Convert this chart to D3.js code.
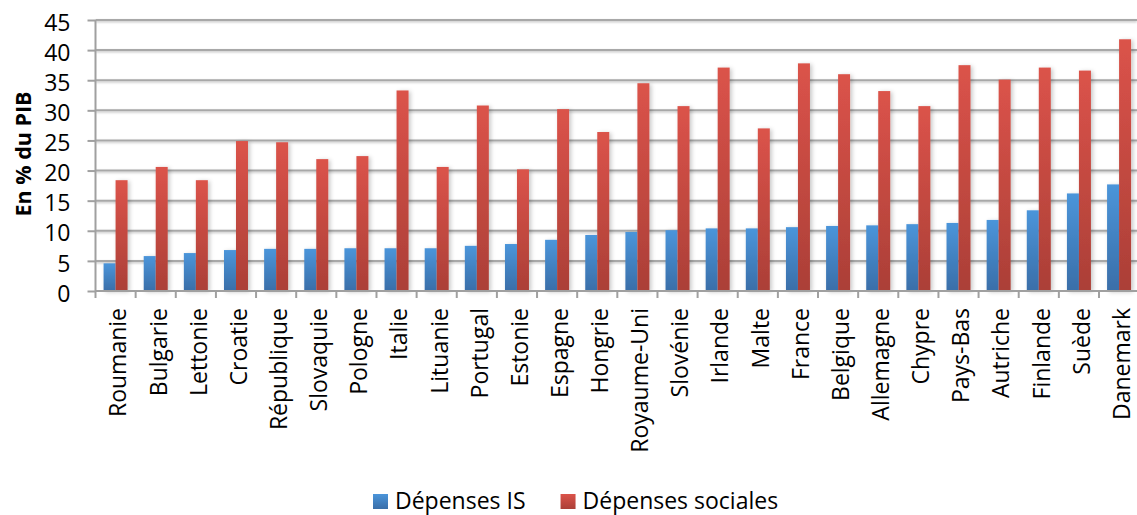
<!DOCTYPE html>
<html>
<head>
<meta charset="utf-8">
<script src="https://cdn.jsdelivr.net/npm/d3@7"></script>
<style>
  html, body { margin: 0; padding: 0; background: #fff; }
  svg { display: block; font-family: "Open Sans", "Noto Sans", sans-serif; }
</style>
</head>
<body>
<svg id="chart" width="1137" height="515"></svg>
<script>
const categories = ["Roumanie","Bulgarie","Lettonie","Croatie","République","Slovaquie","Pologne","Italie","Lituanie","Portugal","Estonie","Espagne","Hongrie","Royaume-Uni","Slovénie","Irlande","Malte","France","Belgique","Allemagne","Chypre","Pays-Bas","Autriche","Finlande","Suède","Danemark"];
const depensesIS = [4.6,5.8,6.3,6.8,7.0,7.0,7.1,7.1,7.1,7.5,7.8,8.5,9.3,9.8,10.1,10.4,10.4,10.6,10.8,10.9,11.1,11.3,11.8,13.4,16.2,17.7];
const depensesSociales = [18.4,20.6,18.4,24.9,24.7,21.9,22.4,33.3,20.6,30.8,20.2,30.2,26.4,34.5,30.7,37.1,27.0,37.8,36.0,33.2,30.7,37.5,35.1,37.1,36.6,41.8];
const seriesNames = ["Dépenses IS","Dépenses sociales"];
const yTicks = [0,5,10,15,20,25,30,35,40,45];
const yTitle = "En % du PIB";

const svg = d3.select("#chart");
const defs = svg.append("defs");

function grad(id, top, bottom) {
  const g = defs.append("linearGradient").attr("id", id)
    .attr("x1", 0).attr("y1", 0).attr("x2", 0).attr("y2", 1);
  g.append("stop").attr("offset", "0%").attr("stop-color", top);
  g.append("stop").attr("offset", "100%").attr("stop-color", bottom);
}
grad("gBlue", "#4b95da", "#3a6ea8");
grad("gRed", "#db534a", "#ab3f37");

const sh = defs.append("filter").attr("id", "shadow")
  .attr("x", "-50%").attr("y", "-10%").attr("width", "200%").attr("height", "120%");
sh.append("feDropShadow").attr("dx", 2).attr("dy", 1).attr("stdDeviation", 2)
  .attr("flood-color", "#000").attr("flood-opacity", 0.22);

const gsh = defs.append("filter").attr("id", "gshadow")
  .attr("x", "-5%").attr("y", "-200%").attr("width", "110%").attr("height", "500%");
gsh.append("feDropShadow").attr("dx", 0).attr("dy", 1.2).attr("stdDeviation", 0.8)
  .attr("flood-color", "#000").attr("flood-opacity", 0.25);

const left = 95.5, bandStep = 40.14;
const x = d3.scaleBand().domain(categories)
  .range([left, left + bandStep * categories.length]).padding(0);
const groupW = 24;
const xs = d3.scaleBand().domain(seriesNames).range([0, groupW]).padding(0);
const y = d3.scaleLinear().domain([0, 45]).range([291, 20]);

// gridlines
svg.append("g").attr("filter", "url(#gshadow)")
  .selectAll("line").data(yTicks.filter(d => d > 0)).join("line")
  .attr("x1", left).attr("x2", 1137)
  .attr("y1", d => y(d)).attr("y2", d => y(d))
  .attr("stroke", "#a8a8a8").attr("stroke-width", 2);

// bars
const rows = categories.map((c, i) => ({ c, vals: [depensesIS[i], depensesSociales[i]] }));
const fills = ["url(#gBlue)", "url(#gRed)"];
const barsG = svg.append("g").attr("filter", "url(#shadow)");
rows.forEach(r => {
  const gx = x(r.c) + (x.bandwidth() - groupW) / 2;
  r.vals.forEach((v, k) => {
    barsG.append("rect")
      .attr("x", gx + xs(seriesNames[k]))
      .attr("y", y(v))
      .attr("width", xs.bandwidth())
      .attr("height", y(0) - y(v))
      .attr("fill", fills[k]);
  });
});

// y axis
const yAxis = d3.axisLeft(y).tickValues(yTicks).tickSize(8).tickPadding(17);
const ya = svg.append("g").attr("transform", `translate(${left},0)`).call(yAxis);
ya.select(".domain").attr("stroke", "#a0a0a0").attr("stroke-width", 2)
  .attr("d", `M0,${y(45)}V${y(0)}`);
ya.selectAll(".tick line").attr("stroke", "#a0a0a0").attr("stroke-width", 2);
ya.selectAll(".tick text").attr("font-size", 23).attr("fill", "#000")
  .attr("font-family", "'Open Sans', sans-serif").attr("dy", "0.44em");

// x axis
const xa = svg.append("g").attr("transform", `translate(0,${y(0)})`);
xa.append("line").attr("x1", left).attr("x2", 1137).attr("y1", 0).attr("y2", 0)
  .attr("stroke", "#a0a0a0").attr("stroke-width", 2);
const tickPos = categories.map(c => x(c));
xa.selectAll("line.tk").data(tickPos).join("line").attr("class", "tk")
  .attr("x1", d => d).attr("x2", d => d).attr("y1", 0).attr("y2", 7)
  .attr("stroke", "#a0a0a0").attr("stroke-width", 2);
xa.selectAll("text").data(categories).join("text")
  .attr("transform", d => `translate(${x(d) + x.bandwidth() / 2},17) rotate(-90)`)
  .attr("dy", "0.47em")
  .attr("text-anchor", "end")
  .attr("font-size", 23).attr("fill", "#000")
  .text(d => d);

// y title
svg.append("text")
  .attr("transform", "translate(31,154) rotate(-90)")
  .attr("text-anchor", "middle")
  .attr("font-size", 21.5).attr("font-weight", "bold").attr("fill", "#000")
  .text(yTitle);

// legend
const lg = svg.append("g");
const legendFills = ["url(#gBlue)", "url(#gRed)"];
const items = [];
let cx = 373;
seriesNames.forEach((s, i) => {
  const g = lg.append("g");
  g.append("rect").attr("x", cx).attr("y", 494).attr("width", 15).attr("height", 15)
    .attr("fill", legendFills[i]);
  const t = g.append("text").attr("x", cx + 22).attr("y", 509)
    .attr("font-size", 23).attr("fill", "#000").text(s);
  const w = t.node().getComputedTextLength();
  cx = cx + 22 + w + 35;
});
</script>
</body>
</html>
